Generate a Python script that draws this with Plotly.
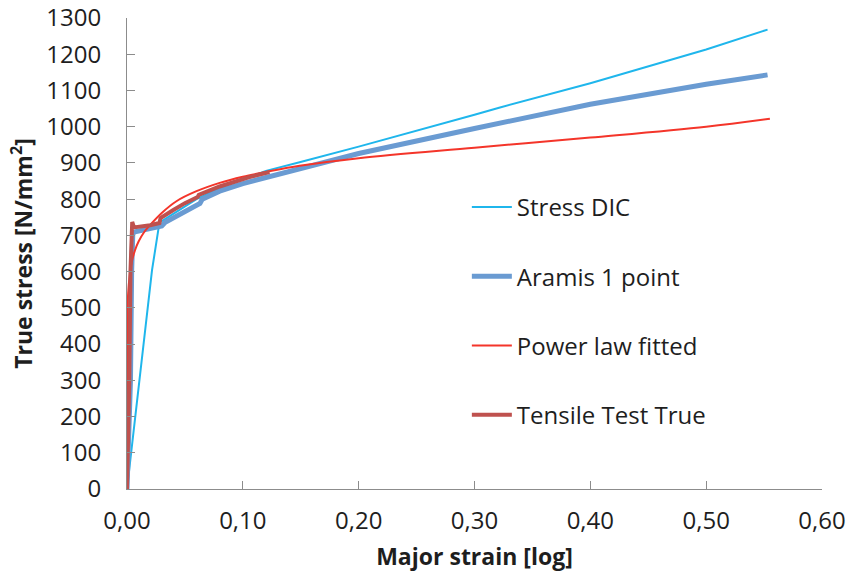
import plotly.graph_objects as go

# Stress DIC
dic_x = [0, 0.0216, 0.028, 0.04, 0.06, 0.08, 0.10, 0.12, 0.149, 0.20, 0.30, 0.322, 0.40, 0.50, 0.553]
dic_y = [0, 604, 735, 760, 800, 830, 855, 878, 902, 945, 1033, 1053, 1120, 1213, 1268]

# Aramis 1 point
ar_x = [0, 0.003, 0.004, 0.005, 0.007, 0.015, 0.028, 0.030, 0.033, 0.045, 0.060, 0.063, 0.065, 0.08, 0.10, 0.12, 0.15, 0.20, 0.30, 0.322, 0.40, 0.50, 0.553]
ar_y = [0, 300, 600, 705, 710, 715, 723, 726, 736, 758, 783, 788, 800, 822, 843, 860, 883, 926, 995, 1010, 1062, 1117, 1143]

# Power law fitted
pl_x = [0, 0.0002, 0.0005, 0.001, 0.002, 0.004, 0.007, 0.01, 0.015, 0.02, 0.03, 0.043, 0.06, 0.08, 0.10, 0.12, 0.149, 0.20, 0.30, 0.40, 0.50, 0.555]
pl_y = [0, 450, 500, 540, 580, 625, 660, 683, 710, 729, 762, 795, 822, 845, 862, 875, 892, 913, 942, 970, 1000, 1022]

# Tensile Test True
tt_x = [0, 0.002, 0.003, 0.004, 0.0045, 0.006, 0.012, 0.020, 0.028, 0.029, 0.040, 0.050, 0.061, 0.062, 0.080, 0.0915, 0.105, 0.123]
tt_y = [0, 300, 600, 720, 737, 722, 724, 728, 734, 748, 770, 789, 806, 812, 835, 847, 860, 875]

x_ticks = [0, 0.1, 0.2, 0.3, 0.4, 0.5, 0.6]
y_ticks = list(range(0, 1301, 100))

FONT = "Open Sans"
axis_col = "#8c8c8c"
txt_col = "#1e1e1e"

fig = go.Figure()
fig.add_trace(go.Scatter(x=dic_x, y=dic_y, mode="lines", name="Stress DIC",
                         line=dict(color="#1fb6ec", width=2), legendgroup="a"))
fig.add_trace(go.Scatter(x=ar_x, y=ar_y, mode="lines", name="Aramis 1 point",
                         line=dict(color="#6a9bd2", width=5), legendgroup="b"))
fig.add_trace(go.Scatter(x=pl_x, y=pl_y, mode="lines", name="Power law fitted",
                         line=dict(color="#f4352a", width=2, shape="spline"), legendgroup="c"))
fig.add_trace(go.Scatter(x=tt_x, y=tt_y, mode="lines", name="Tensile Test True",
                         line=dict(color="#bf514e", width=4), legendgroup="d"))

fig.update_layout(
    width=848, height=573,
    margin=dict(l=127, r=26, t=18, b=84, autoexpand=False),
    paper_bgcolor="white", plot_bgcolor="white",
    separators=", ",
    font=dict(family=FONT, color=txt_col, size=24),
    showlegend=True,
    legend=dict(x=0.489, y=0.378, xanchor="left", yanchor="middle",
                font=dict(family=FONT, size=24, color=txt_col),
                tracegroupgap=35, itemwidth=40, bgcolor="rgba(0,0,0,0)"),
    xaxis=dict(range=[0, 0.6], tickvals=x_ticks, tickformat=".2f", automargin=False,
               showgrid=False, zeroline=False, showline=True, linecolor=axis_col,
               ticks="inside", ticklen=8, tickcolor=axis_col, ticklabelstandoff=10,
               tickfont=dict(family=FONT, size=24, color=txt_col),
               title=dict(text="<b>Major strain [log]</b>", standoff=14,
                          font=dict(family=FONT, size=23, color=txt_col))),
    yaxis=dict(range=[0, 1300], tickvals=y_ticks, tickformat="d", automargin=False,
               showgrid=False, zeroline=False, showline=True, linecolor=axis_col,
               ticks="inside", ticklen=8, tickcolor=axis_col, ticklabelstandoff=20,
               tickfont=dict(family=FONT, size=24, color=txt_col),
               title=dict(text="<b>True stress [N/mm<sup>2</sup>]</b>", standoff=7,
                          font=dict(family=FONT, size=23, color=txt_col))),
)

fig.write_html("out.html", config={"displayModeBar": False},
               post_script="document.body.style.margin='0';document.body.style.overflow='hidden';")
